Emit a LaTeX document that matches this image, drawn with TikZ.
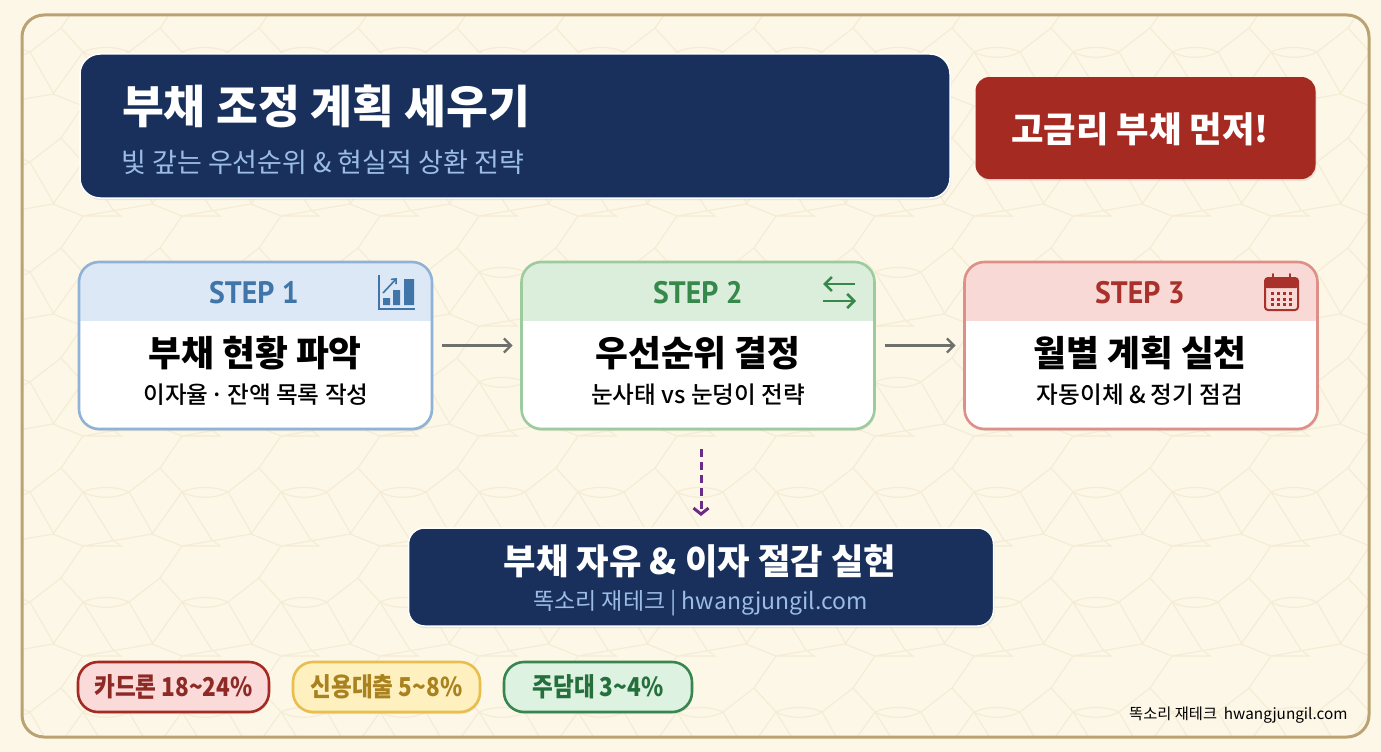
\documentclass[tikz,border=0pt]{standalone}
\usepackage{fontspec}
\setmainfont{Noto Sans CJK KR}
\newfontfamily\stepfont{PT Sans}
\newfontfamily\midfont{Noto Sans CJK KR Medium}
\usetikzlibrary{shadows,arrows.meta}
\definecolor{paper}{HTML}{FDF7E7}
\definecolor{framec}{HTML}{BBA273}
\definecolor{webc}{HTML}{F6ECD6}
\definecolor{navy}{HTML}{18305B}
\definecolor{brick}{HTML}{A42A22}
\definecolor{blueL}{HTML}{8FB2D6}
\definecolor{blueH}{HTML}{DCE8F5}
\definecolor{blueT}{HTML}{3F75A8}
\definecolor{greenL}{HTML}{9CCB9E}
\definecolor{greenH}{HTML}{DBEEDB}
\definecolor{greenT}{HTML}{37894B}
\definecolor{redL}{HTML}{DE8F88}
\definecolor{redH}{HTML}{F8D9D6}
\definecolor{redT}{HTML}{A8312B}
\definecolor{arrowc}{HTML}{6F6F6B}
\definecolor{purplec}{HTML}{6A2C86}
\definecolor{pinkF}{HTML}{FBDADA}
\definecolor{pinkT}{HTML}{8E2A26}
\definecolor{yelF}{HTML}{FFF1BF}
\definecolor{yelL}{HTML}{E8BE4C}
\definecolor{yelT}{HTML}{A9811E}
\definecolor{mintF}{HTML}{DDF2E0}
\definecolor{mintL}{HTML}{38854F}
\definecolor{mintT}{HTML}{256F3C}
\definecolor{subblue}{HTML}{9CBDE3}
\tikzset{
  softshadow/.style={drop shadow={opacity=.16,shadow xshift=1pt,shadow yshift=-2pt}},
  panel/.style={rounded corners=#1,outer sep=0pt,inner sep=0pt,softshadow},
  card/.style 2 args={panel=20pt,draw=#1,line width=2.6pt,fill=white,
    minimum width=353pt,minimum height=167pt,
    path picture={\fill[#2,sharp corners] (path picture bounding box.north west) rectangle
      ([yshift=-59pt]path picture bounding box.north east);}},
  badge/.style n args={3}{panel=20pt,draw=#1,line width=2.6pt,fill=#2,text=#3,
    minimum height=50pt,font=\fontsize{26}{28}\selectfont\bfseries\addfontfeature{FakeStretch=0.868}},
  steplabel/.style={font=\stepfont\fontsize{31}{34}\selectfont\bfseries\addfontfeature{FakeStretch=0.96}},
  cardtitle/.style={font=\fontsize{35.7}{40}\selectfont\bfseries,text=black},
  cardsub/.style={font=\midfont\fontsize{23.6}{28}\selectfont,text=black},
  flow/.style={-{Straight Barb[length=7pt,width=14pt]},line width=2.2pt,color=arrowc,shorten >=9pt,shorten <=10pt},
}
\begin{document}
\begin{tikzpicture}[x=1pt,y=-1pt]
\useasboundingbox (0,0) rectangle (1381,752);
\fill[paper] (0,0) rectangle (1381,752);
% backdrop
\begin{scope}
\clip[rounded corners=22pt] (22,15) rectangle (1369,737);
\foreach \tx in {-38,61,...,1400}
  \foreach \ty in {-82,28,...,760}
    \draw[webc,line width=1.2pt,shift={(\tx,\ty)}]
      (0,0) -- (22,24) .. controls (35,18) and (55,18) .. (68,24) -- (99,0)
      (22,24) .. controls (35,31) and (55,31) .. (68,24) -- (92,66)
      (22,24) -- (-8,66) -- (22,78) -- (91,66) (22,78) -- (0,110)
      (22,24) -- (52,72) -- (60,78) -- (22,78);
\end{scope}
\draw[framec,line width=3pt,rounded corners=22pt] (22,15) rectangle (1369,737);
% header
\node[panel=20pt,fill=navy,draw=white,line width=1.5pt,minimum width=870pt,minimum height=144pt] (head) at (515,126) {};
\node[anchor=west,text=white,font=\fontsize{45.5}{50}\selectfont\bfseries] (headtitle) at (118.5,106) {부채 조정 계획 세우기};
\node[anchor=west,text=subblue,font=\fontsize{27}{30}\selectfont] (headsub) at (118,162) {빛 갚는 우선순위 \& 현실적 상환 전략};
\node[panel=14pt,fill=brick,minimum width=340pt,minimum height=102pt] (alert) at (1145.5,128) {};
\node[text=white,font=\fontsize{35.3}{40}\selectfont\bfseries] (alerttext) at (1140,129) {고금리 부채 먼저!};
% steps
\node[card={blueL}{blueH}] (card1) at (255.5,345.5) {};
\node[card={greenL}{greenH}] (card2) at (698,345.5) {};
\node[card={redL}{redH}] (card3) at (1141,345.5) {};
\node[steplabel,text=blueT] (step1) at (254,293) {STEP 1};
\node[steplabel,text=greenT] (step2) at (698,293) {STEP 2};
\node[steplabel,text=redT] (step3) at (1140,293) {STEP 3};
\node[cardtitle] (title1) at (255,353) {부채 현황 파악};
\node[cardtitle] (title2) at (698,353) {우선순위 결정};
\node[cardtitle] (title3) at (1140,353) {월별 계획 실천};
\node[cardsub] (sub1) at (256,395) {이자율 \kern-3pt·\kern3pt 잔액 목록 작성};
\node[cardsub] (sub2) at (698,395) {눈사태 vs 눈덩이 전략};
\node[cardsub] (sub3) at (1140,395) {자동이체 \& 정기 점검};
% icons
\draw[blueT,line width=1.8pt] (379,275) -- (379,309) -- (415,309);
\fill[blueT] (383,298) rectangle (390,305) (393,290) rectangle (400,305) (404,279) rectangle (414,305);
\draw[blueT,line width=1.6pt,-{Straight Barb[length=4pt,width=7pt]}] (383,293) -- (397,278);
\draw[greenT,line width=2.6pt,-{Straight Barb[length=7pt,width=14pt]}] (855,284) -- (823,284);
\draw[greenT,line width=2.6pt,-{Straight Barb[length=7pt,width=14pt]}] (823,301) -- (856,301);
\draw[redT,line width=2pt,rounded corners=3pt] (1265,278) rectangle (1298,310);
\fill[redT,rounded corners=2pt] (1265,278) rectangle (1298,288);
\draw[redT,line width=2pt,line cap=round] (1273,274) -- (1273,281) (1290,274) -- (1290,281);
\foreach \ix in {0,1,2,3}
  \foreach \iy in {0,1,2}
    \fill[redT] (1270.5+\ix*6,292+\iy*5.5) rectangle +(3.6,3.4);
% connectors
\draw[flow] (card1) -- (card2);
\draw[flow] (card2) -- (card3);
% goal
\node[panel=16pt,fill=navy,draw=white,line width=1.5pt,minimum width=585pt,minimum height=98pt] (goal) at (701,577) {};
\node[text=white,font=\fontsize{35.3}{40}\selectfont\bfseries] (goaltitle) at (700,561) {부채 자유 \& 이자 절감 실현};
\node[text=subblue,font=\fontsize{23}{28}\selectfont] (goalsub) at (700.5,603) {똑소리 재테크 | hwangjungil.com};
\draw[purplec,line width=3pt,dash pattern=on 8pt off 5pt,-{Straight Barb[length=6pt,width=15pt]},shorten <=20pt,shorten >=12pt] (card2.south -| goal.north) -- (goal.north);
% rates
\node[badge={brick}{pinkF}{pinkT},minimum width=191pt] (rate1) at (173.5,687) {카드론 18\textasciitilde24\%};
\node[badge={yelL}{yelF}{yelT},minimum width=187pt] (rate2) at (386.5,687) {신용대출 5\textasciitilde8\%};
\node[badge={mintL}{mintF}{mintT},minimum width=188pt] (rate3) at (598,687) {주담대 3\textasciitilde4\%};
\node[anchor=east,text=black,font=\fontsize{15.3}{18}\selectfont] (credit) at (1351,715) {똑소리 재테크\ \ hwangjungil.com};
\end{tikzpicture}
\end{document}
